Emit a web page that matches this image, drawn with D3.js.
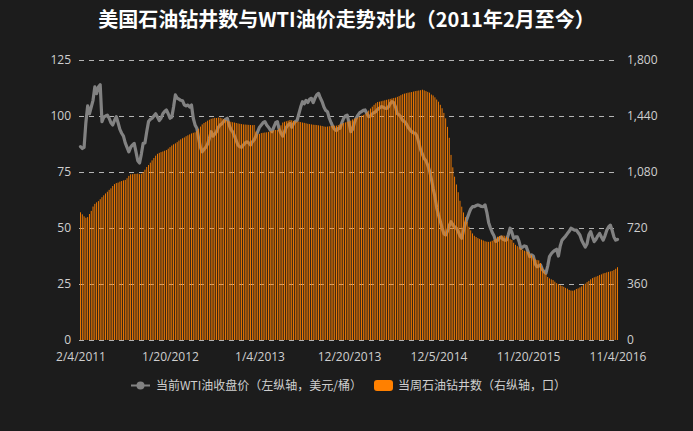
<!DOCTYPE html>
<html><head><meta charset="utf-8">
<script src="https://cdn.jsdelivr.net/npm/d3@7/dist/d3.min.js"></script>
<style>
html,body{margin:0;padding:0;background:#1c1c1c;}
svg{display:block;}
</style></head>
<body>
<svg id="chart" width="693" height="431"></svg>
<script>
const title = "美国石油钻井数与WTI油价走势对比（2011年2月至今）";
const startDate = "2011-02-04";
const tickLabels = ["2/4/2011","1/20/2012","1/4/2013","12/20/2013","12/5/2014","11/20/2015","11/4/2016"];
const leftTicks = [0,25,50,75,100,125];
const rightTicks = [0,360,720,1080,1440,1800];
const legendLine = "当前WTI油收盘价（左纵轴，美元/桶）";
const legendBar = "当周石油钻井数（右纵轴，口）";

// WTI weekly close (USD/bbl), weeks 0..300
const wti = [
86.3,85.5,86,97,104.5,101,104,107,113,110,
113,114,97.5,99.5,100,100.4,99,97,96,98,
99.7,97,94,92.3,91,88,86,84,86,87,
87.8,84,80,79,83,87.8,88,93,97.5,98.5,
99,100,101,99.5,98,99,101,102,102.7,101,
99,99.5,104,109.4,108,107.5,107,106.8,105,104.5,
104.9,104,104.9,99,96,94.5,90,86,84,85,
86,87.5,90,93,91,92,93,95,96,96.5,
97.5,98.5,99,96,94,93,91,89,87,86.3,
86,87,88,88.5,88,87,88.5,89.3,91,93,
95,96,97,97.5,96,95,93.8,93,95,97,
97.5,94,92.3,91,93,95,96,96.7,95,96.5,
97.5,98,101,104,106.4,105.5,107,106,107.5,107.9,
106,108,109.5,110.1,108,106.4,104,102.5,101.9,99,
97,95.2,94,93.5,94.5,94.5,97,99,100,100.4,
97,93,94,97,99,100.4,101.5,102,102.5,102.7,
101,99.7,100,101,101.5,102,103,103.5,104.2,104,
103.5,103.4,104,105.5,106.4,106,104,101,100.5,99.5,
98,97.5,96.5,95,94,93,92.5,92.3,91,88,
85,83,81,80,78,75.5,72,67.7,64,59,
55.8,53,50,47.5,46.9,48.5,51,52.8,51.5,50.5,
49.9,48.5,46.5,45.4,49,52,54.3,56.5,58.5,59.5,
59.5,60,60.3,60,59.6,59.5,60.3,57,52.5,50,
48,46.5,44,44.5,45.4,46,45,44.6,44.6,47,
49.9,48,45.4,46,46.1,44,40.9,41.5,42,41.7,
39.5,37.2,38,37.5,34,32.7,33,33.5,31.5,30.5,
29.8,33,37.2,38.5,39.4,40,40.5,37.5,42,44.6,
45.5,46.4,47.5,48.5,49.9,49.5,49,49.1,48,46.9,
44.5,43,41.5,43,47,48.4,46,43.9,45,46.5,
47.6,46,44.6,46.5,49,50.5,51.3,49,46,44.6,
44.9
];

// US oil rig count, weeks 0..300
const rigs = [
821,808,795,786,790,810,830,858,875,885,
893,905,918,930,942,953,965,975,990,1002,
1009,1012,1018,1022,1026,1029,1040,1055,1065,1066,
1068,1068,1070,1066,1069,1080,1095,1112,1125,1140,
1155,1170,1185,1197,1203,1208,1212,1217,1221,1230,
1240,1250,1258,1264,1272,1282,1290,1297,1302,1310,
1316,1322,1328,1332,1335,1345,1358,1372,1386,1395,
1402,1410,1416,1422,1425,1428,1427,1430,1429,1425,
1420,1415,1410,1406,1403,1400,1398,1395,1392,1390,
1388,1386,1385,1384,1383,1382,1381,1382,1340,1322,
1325,1330,1332,1334,1335,1338,1342,1345,1348,1350,
1350,1360,1380,1398,1403,1406,1410,1414,1412,1408,
1405,1404,1403,1401,1398,1396,1393,1390,1388,1386,
1384,1383,1382,1380,1378,1376,1373,1371,1372,1374,
1376,1377,1378,1378,1382,1386,1390,1395,1399,1403,
1405,1410,1418,1423,1426,1430,1436,1442,1447,1451,
1462,1475,1488,1500,1512,1522,1530,1532,1535,1538,
1541,1544,1547,1550,1553,1556,1558,1563,1568,1574,
1580,1584,1587,1590,1592,1594,1597,1600,1602,1604,
1606,1609,1605,1600,1595,1590,1578,1572,1560,1546,
1532,1512,1490,1460,1425,1370,1300,1190,1110,1050,
1000,950,895,857,820,790,760,728,705,685,
670,662,655,650,645,640,635,632,631,633,
638,643,652,664,669,671,672,670,662,655,
648,643,625,612,603,596,590,580,574,570,
566,555,545,530,519,515,512,495,465,445,
425,405,396,390,385,375,365,360,352,348,
342,335,330,322,318,317,320,328,332,338,
345,354,362,372,380,390,398,403,407,412,
418,422,428,431,435,438,441,444,450,458,
468
];

const svg = d3.select("#chart");
const W = 693, H = 431;
const plotL = 80.5, plotR = 617.5, plotT = 60, plotB = 340;

const parseISO = d3.timeParse("%Y-%m-%d");
const parseUS = d3.timeParse("%-m/%-d/%Y");
const t0 = parseISO(startDate);
const dates = wti.map((_, i) => d3.timeDay.offset(t0, 7 * i));

const x = d3.scaleTime().domain([dates[0], dates[dates.length - 1]]).range([plotL, plotR]);
const yL = d3.scaleLinear().domain([0, 125]).range([plotB, plotT]);
const yR = d3.scaleLinear().domain([0, 1800]).range([plotB, plotT]);

svg.append("rect").attr("width", W).attr("height", H).attr("fill", "#1c1c1c");

// title
svg.append("text").attr("x", 346.5).attr("y", 27).attr("text-anchor", "middle")
  .attr("fill", "#ffffff").attr("font-family", "'Noto Sans CJK SC', sans-serif")
  .attr("font-weight", "bold").attr("font-size", 20).text(title);

// gridlines
const grid = svg.append("g");
grid.selectAll("line").data(leftTicks).join("line")
  .attr("x1", 79).attr("x2", 619)
  .attr("y1", d => Math.round(yL(d)) + 0.5).attr("y2", d => Math.round(yL(d)) + 0.5)
  .attr("stroke", "#b4b4b4").attr("stroke-width", 1).attr("stroke-dasharray", "5,5");

const fontAxis = "'Open Sans', 'Noto Sans', sans-serif";

// left axis labels
const axL = d3.axisLeft(yL).tickValues(leftTicks).tickSize(0).tickPadding(0);
const gL = svg.append("g").attr("transform", "translate(71,0)").call(axL);
gL.select(".domain").remove();
gL.selectAll("text").attr("fill", "#cfcfcf").attr("font-family", fontAxis).attr("font-size", 12);

// right axis labels
const axR = d3.axisRight(yR).tickValues(rightTicks).tickSize(0).tickPadding(0).tickFormat(d3.format(","));
const gR = svg.append("g").attr("transform", "translate(627,0)").call(axR);
gR.select(".domain").remove();
gR.selectAll("text").attr("fill", "#cfcfcf").attr("font-family", fontAxis).attr("font-size", 12);

// bottom axis labels
const axB = d3.axisBottom(x).tickValues(tickLabels.map(parseUS)).tickSize(0).tickPadding(0)
  .tickFormat(d3.timeFormat("%-m/%-d/%Y"));
const gB = svg.append("g").attr("transform", "translate(0,352)").call(axB);
gB.select(".domain").remove();
gB.selectAll("text").attr("fill", "#cfcfcf").attr("font-family", fontAxis).attr("font-size", 12);

// WTI line (drawn below bars)
const line = d3.line().x((d, i) => x(dates[i])).y(d => yL(d));
svg.append("path").datum(wti).attr("d", line)
  .attr("fill", "none").attr("stroke", "#828282").attr("stroke-width", 3.2)
  .attr("stroke-linejoin", "round").attr("stroke-linecap", "round");

// rig bars
const bw = 0.9;
svg.append("g").selectAll("rect").data(rigs).join("rect")
  .attr("x", (d, i) => x(dates[i]) - bw / 2)
  .attr("width", bw)
  .attr("y", d => yR(d))
  .attr("height", d => plotB - yR(d))
  .attr("fill", "#ff8000");

// legend
const lg = svg.append("g").attr("font-family", "'Noto Sans CJK SC', sans-serif").attr("font-size", 12).attr("fill", "#cfcfcf");
lg.append("line").attr("x1", 131).attr("x2", 150).attr("y1", 385.5).attr("y2", 385.5)
  .attr("stroke", "#828282").attr("stroke-width", 2);
lg.append("circle").attr("cx", 140.5).attr("cy", 385.5).attr("r", 4).attr("fill", "#828282");
lg.append("text").attr("x", 156).attr("y", 390).text(legendLine);
lg.append("rect").attr("x", 374).attr("y", 380).attr("width", 19).attr("height", 11).attr("rx", 3)
  .attr("fill", "#ff8000");
lg.append("text").attr("x", 398).attr("y", 390).text(legendBar);
</script>
</body></html>
